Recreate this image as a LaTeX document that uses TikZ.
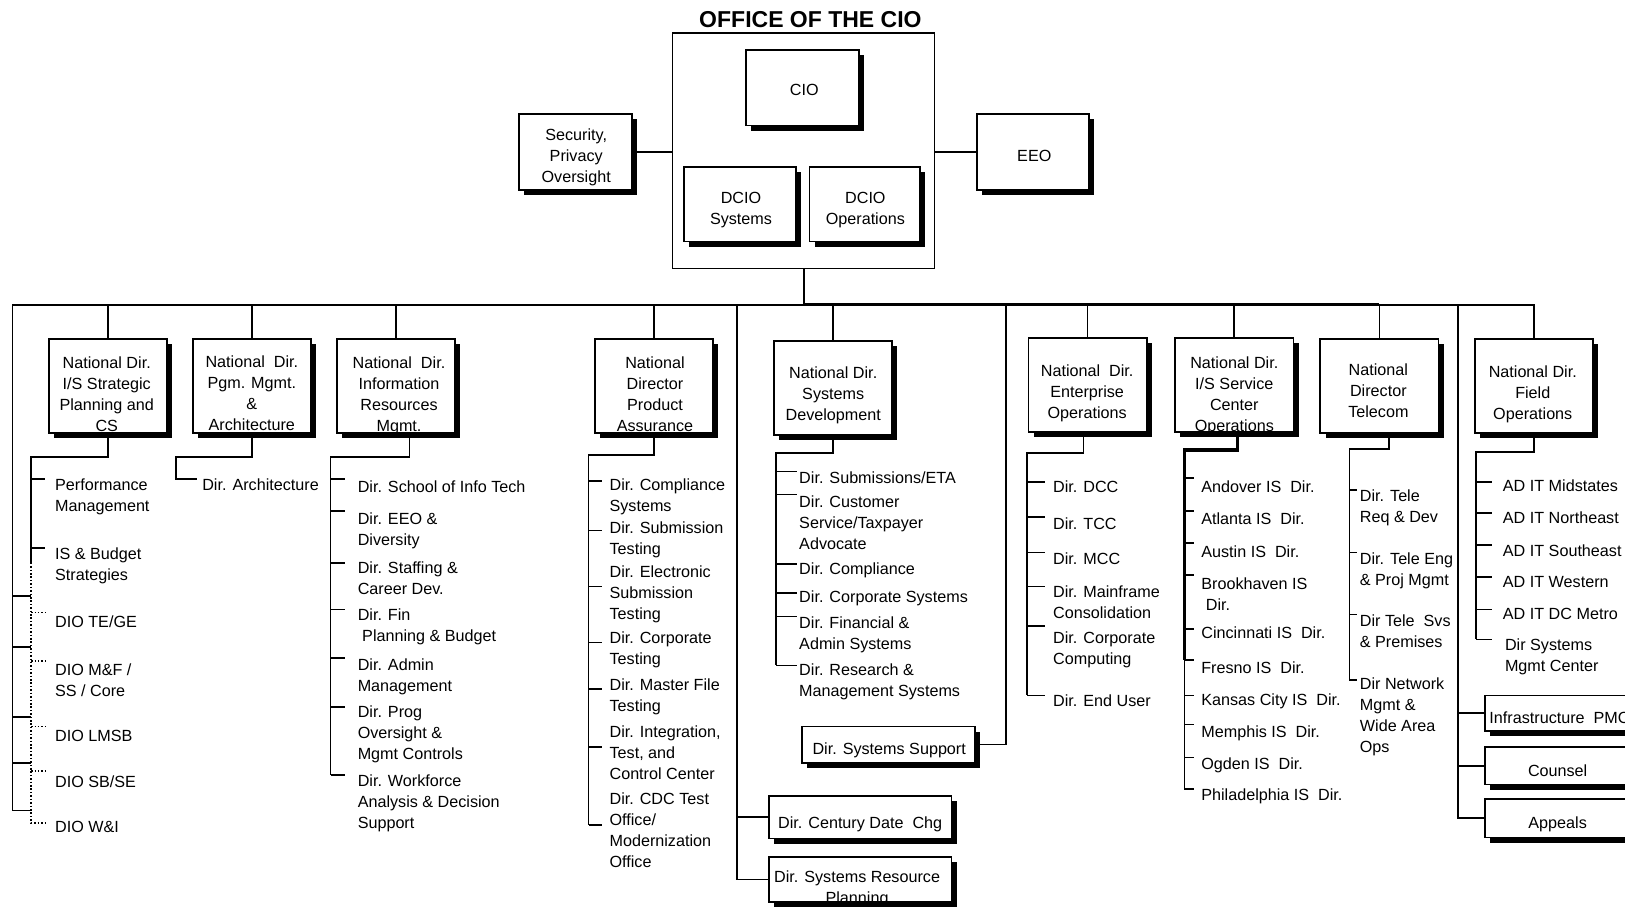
\documentclass[tikz,border=0pt]{standalone}
\usepackage{fontspec}
\setmainfont{Liberation Sans}
\usepackage{tikz}
\usetikzlibrary{positioning,shadows,calc}

\newcommand{\lblfont}{\fontsize{15.6pt}{20.3pt}\selectfont}
\newcommand{\ttlfont}{\fontsize{22.2pt}{26pt}\selectfont\bfseries}

\begin{document}
\begin{tikzpicture}[x=1pt, y=-1pt,
  ln/.style={line width=1.6pt},
  thk/.style={line width=3.3pt},
  dots/.style={line width=1.5pt, dash pattern=on 1.5pt off 1.8pt},
  shbox/.style={draw, line width=1.7pt, fill=white, inner sep=0pt,
    drop shadow={shadow xshift=5pt, shadow yshift=-5pt, fill=black, opacity=1}},
  ndbox/.style={shbox, minimum width=114pt, minimum height=91pt},
  boxtxt/.style={anchor=north, align=center, inner sep=0pt, font=\lblfont},
  item/.style={anchor=north west, align=left, inner sep=0pt, font=\lblfont}]
  \useasboundingbox (0,0) rectangle (1568,875);
  \clip (0,0) rectangle (1568,875);

  % office of the CIO
  \node[font=\ttlfont, inner sep=0pt] (title) at (782,19) {OFFICE OF THE CIO};
  \node[draw, line width=1.3pt, minimum width=253pt, minimum height=227pt, inner sep=0pt] (office) at (775.5,145.5) {};
  \node[shbox, minimum width=109pt, minimum height=73pt] (cio) at (774.5,84.5) {};
  \node[boxtxt] (ciot) at (776,81) {CIO};
  \node[shbox, minimum width=108pt, minimum height=72pt] (dsys) at (714,197) {};
  \node[boxtxt] (dsyst) at (715,185) {DCIO\\Systems};
  \node[shbox, minimum width=107pt, minimum height=72pt] (dops) at (834.5,197) {};
  \node[boxtxt] (dopst) at (835,185) {DCIO\\Operations};
  \node[shbox, minimum width=109pt, minimum height=73pt] (secu) at (555.5,146.5) {};
  \node[boxtxt] (secut) at (556,124) {Security,\\Privacy\\Oversight};
  \node[shbox, minimum width=108pt, minimum height=73pt] (eeo) at (997,146.5) {};
  \node[boxtxt] (eeot) at (998,145) {EEO};
  \draw[ln] (secu.east) -- (secu.east -| office.west);
  \draw[ln] (eeo.west -| office.east) -- (eeo.west);

  % main bus
  \coordinate (busL) at (12,294);
  \coordinate (busC) at (776,294);
  \coordinate (busT) at (1331,294);
  \draw[ln] (office.south) -- (office.south |- busC);
  \draw[ln] (busL) -- (busC);
  \draw[thk] (busC) -- (busT);

  % national directors
  \node[ndbox] (ndsp) at (104,372.5) {};
  \node[boxtxt] (ndspt) at (103,344) {National Dir.\\I/S Strategic\\Planning and\\CS};
  \node[ndbox] (ndpm) at (243,372.5) {};
  \node[boxtxt] (ndpmt) at (243,343) {National\ \ Dir.\\Pgm. Mgmt.\\\&\\Architecture};
  \node[ndbox] (ndrm) at (382,372.5) {};
  \node[boxtxt] (ndrmt) at (385,344) {National\ \ Dir.\\Information\\Resources\\Mgmt.};
  \node[ndbox] (ndpa) at (631,372.5) {};
  \node[boxtxt] (ndpat) at (632,344) {National\\Director\\Product\\Assurance};
  \node[ndbox] (ndsd) at (804,374.5) {};
  \node[boxtxt] (ndsdt) at (804,354) {National Dir.\\Systems\\Development};
  \node[ndbox] (ndeo) at (1049.5,371.5) {};
  \node[boxtxt] (ndeot) at (1049,352) {National\ \ Dir.\\Enterprise\\Operations};
  \node[ndbox] (ndsc) at (1191,371.5) {};
  \node[boxtxt] (ndsct) at (1191,344) {National Dir.\\I/S Service\\Center\\Operations};
  \node[ndbox] (ndtc) at (1331,372.5) {};
  \node[boxtxt] (ndtct) at (1330,351) {National\\Director\\Telecom};
  \node[ndbox] (ndfo) at (1480,372.5) {};
  \node[boxtxt] (ndfot) at (1479,353) {National Dir.\\Field\\Operations};
  \foreach \b in {ndsp,ndpm,ndrm,ndpa,ndsd,ndeo,ndsc}
    \draw[ln] (\b.north) -- (\b.north |- busC);
  \draw[ln] (ndtc.north) -- (busT);
  \draw[ln] (busT) -| (ndfo.north);

  % strategic planning
  \coordinate (lftB) at (12,782);
  \draw[ln] (busL) -- (lftB) -- ++(18,0);
  \foreach \y in {575,624,692,736}
    \draw[ln] (12,\y) -- ++(18,0);
  \coordinate (spA) at (30,441);
  \coordinate (spB) at (30,543);
  \draw[ln] (ndsp.south) |- (spA) -- (spB);
  \foreach \txt/\yn/\dy [count=\i] in {{Performance\\Management}/462/0, {IS \& Budget\\Strategies}/528/1}{
    \node[item] (sp\i) at (53,\yn) {\txt};
    \draw[ln] (spA |- sp\i.north west) ++(0,\dy) -- ++(13,0);
  }
  \foreach \txt/\yn/\dy [count=\i] in {{DIO TE/GE}/594/-3, {DIO M\&F /\\SS / Core}/640/-2, {DIO LMSB}/704/-3, {DIO SB/SE}/748/-4}{
    \node[item] (dio\i) at (53,\yn) {\txt};
    \draw[dots] (spA |- dio\i.north west) ++(0,\dy) -- ++(15,0);
  }
  \node[item] (dio5) at (53,792) {DIO W\&I};
  \draw[dots] (spB) |- ([xshift=-8pt,yshift=-2pt]dio5.north west);

  % program management
  \coordinate (pmA) at (170,441);
  \node[item] (arch) at (195,462) {Dir. Architecture};
  \draw[ln] (ndpm.south) |- (pmA) |- ([xshift=-5pt]arch.north west);

  % information resources
  \coordinate (rmA) at (319,441);
  \coordinate (rmB) at (319,748);
  \draw[ln] ([xshift=13pt]ndrm.south) |- (rmA) -- (rmB);
  \foreach \txt/\yn/\dy [count=\i] in {{Dir. School of Info Tech}/464/-2, {Dir. EEO \&\\Diversity}/495/-2,
      {Dir. Staffing \&\\Career Dev.}/542/1, {Dir. Fin\\\ Planning \& Budget}/587/1, {Dir. Admin\\Management}/635/0,
      {Dir. Prog\\Oversight \&\\Mgmt Controls}/681/1, {Dir. Workforce\\Analysis \& Decision\\Support}/747/1}{
    \node[item] (rm\i) at (345,\yn) {\txt};
    \draw[ln] (rmA |- rm\i.north west) ++(0,\dy) -- ++(14,0);
  }

  % product assurance
  \coordinate (paA) at (568,439);
  \coordinate (paB) at (568,796);
  \draw[ln] (ndpa.south) |- (paA) -- (paB);
  \foreach \txt/\yn/\dy [count=\i] in {{Dir. Compliance\\Systems}/462/2, {Dir. Submission\\Testing}/503/9,
      {Dir. Electronic\\Submission\\Testing}/546/20, {Dir. Corporate\\Testing}/609/11, {Dir. Master File\\Testing}/655/10,
      {Dir. Integration,\\Test, and\\Control Center}/700/21, {Dir. CDC Test\\Office/\\Modernization\\Office}/765/31}{
    \node[item] (pa\i) at (588,\yn) {\txt};
    \draw[ln] (paA |- pa\i.north west) ++(0,\dy) -- ++(13,0);
  }

  % systems development
  \coordinate (sdA) at (749,437);
  \coordinate (sdB) at (749,642);
  \draw[ln] (ndsd.south) |- (sdA) -- (sdB);
  \foreach \txt/\yn/\dy [count=\i] in {{Dir. Submissions/ETA}/455/0, {Dir. Customer\\Service/Taxpayer\\Advocate}/478/-1,
      {Dir. Compliance}/543/1, {Dir. Corporate Systems}/570/2, {Dir. Financial \&\\Admin Systems}/595/0,
      {Dir. Research \&\\Management Systems}/640/2}{
    \node[item] (sd\i) at (771,\yn) {\txt};
    \draw[ln] (sdA |- sd\i.north west) ++(0,\dy) -- ++(20,0);
  }

  % boxes off the bus
  \node[shbox, minimum width=167pt, minimum height=35pt] (sysup) at (857.5,718.5) {};
  \node[boxtxt] (sysupt) at (858,717) {Dir. Systems Support};
  \node[shbox, minimum width=176pt, minimum height=41pt] (cdc) at (830,788.5) {};
  \node[boxtxt] (cdct) at (830,788) {Dir. Century Date\ \ Chg};
  \node[shbox, minimum width=176pt, minimum height=43pt] (srp) at (830,848.5) {};
  \node[boxtxt] (srpt) at (827,840) {Dir. Systems Resource\\Planning};
  \coordinate (vPA) at (711,294);
  \draw[ln] (vPA) |- (srp.west);
  \draw[ln] (cdc.west -| vPA) -- (cdc.west);
  \coordinate (vSS) at (971,294);
  \draw[ln] (vSS) |- (sysup.east);

  % enterprise operations
  \coordinate (eoA) at (991,437);
  \coordinate (eoB) at (991,671);
  \draw[ln] ([xshift=-4pt]ndeo.south) |- (eoA) -- (eoB);
  \foreach \txt/\yn/\dy [count=\i] in {{Dir. DCC}/464/1, {Dir. TCC}/499/0, {Dir. MCC}/533/0,
      {Dir. Mainframe\\Consolidation}/565/1, {Dir. Corporate\\Computing}/609/-5, {Dir. End User}/670/1}{
    \node[item] (eo\i) at (1016,\yn) {\txt};
    \draw[ln] (eoA |- eo\i.north west) ++(0,\dy) -- ++(17,0);
  }

  % service center operations
  \coordinate (scA) at (1143,434);
  \coordinate (scB) at (1143,637);
  \coordinate (scC) at (1143,762);
  \draw[line width=3.6pt] ([xshift=3pt]ndsc.south) |- (scA) -- (scB);
  \draw[ln] (scB) -- (scC);
  \foreach \txt/\yn/\dy [count=\i] in {{Andover IS\ \ Dir.}/464/-3, {Atlanta IS\ \ Dir.}/495/-2, {Austin IS\ \ Dir.}/526/-2,
      {Brookhaven IS\\\ Dir.}/557/-2, {Cincinnati IS\ \ Dir.}/605/2, {Fresno IS\ \ Dir.}/638/-1,
      {Kansas City IS\ \ Dir.}/669/2, {Memphis IS\ \ Dir.}/700/-1, {Ogden IS\ \ Dir.}/731/0,
      {Philadelphia IS\ \ Dir.}/761/0}{
    \node[item] (sc\i) at (1159,\yn) {\txt};
    \draw[ln] (scA |- sc\i.north west) ++(0,\dy) -- ++(9,0);
  }

  % telecom
  \coordinate (tcA) at (1302,433);
  \coordinate (tcB) at (1302,656);
  \draw[ln] ([xshift=9pt]ndtc.south) |- (tcA) -- (tcB);
  \foreach \txt/\yn/\dy [count=\i] in {{Dir. Tele\\Req \& Dev}/472/1, {Dir. Tele Eng\\\& Proj Mgmt}/533/0,
      {Dir Tele\ \ Svs\\\& Premises}/593/0, {Dir Network\\Mgmt \&\\Wide Area\\Ops}/654/2}{
    \node[item] (tc\i) at (1312,\yn) {\txt};
    \draw[ln] (tcA |- tc\i.north west) ++(0,\dy) -- ++(7,0);
  }

  % field operations
  \coordinate (foA) at (1424,436);
  \coordinate (foB) at (1424,617);
  \draw[ln] (ndfo.south) |- (foA) -- (foB);
  \foreach \txt/\yn/\dy [count=\i] in {{AD IT Midstates}/463/2, {AD IT Northeast}/494/1, {AD IT Southeast}/525/1,
      {AD IT Western}/556/1, {AD IT DC Metro}/587/1}{
    \node[item] (fo\i) at (1450,\yn) {\txt};
    \draw[ln] (foA |- fo\i.north west) ++(0,\dy) -- ++(16,0);
  }
  \node[item] (fo6) at (1452,616) {Dir Systems\\Mgmt Center};
  \draw[ln] (foB) -- ++(16,0);

  % staff offices
  \node[shbox, minimum width=157pt, minimum height=34pt] (infra) at (1511.5,688) {};
  \node[item] (infrat) at (1437,687) {Infrastructure\ \ PMC};
  \node[shbox, minimum width=157pt, minimum height=36pt] (couns) at (1511.5,739) {};
  \node[boxtxt] (counst) at (1503,738) {Counsel};
  \node[shbox, minimum width=157pt, minimum height=37pt] (appl) at (1511.5,789.5) {};
  \node[boxtxt] (applt) at (1503,788) {Appeals};
  \coordinate (vRt) at (1407,294);
  \draw[ln] (vRt) |- (appl.west);
  \draw[ln] (infra.west -| vRt) -- (infra.west);
  \draw[ln] (couns.west -| vRt) -- (couns.west);
\end{tikzpicture}
\end{document}
